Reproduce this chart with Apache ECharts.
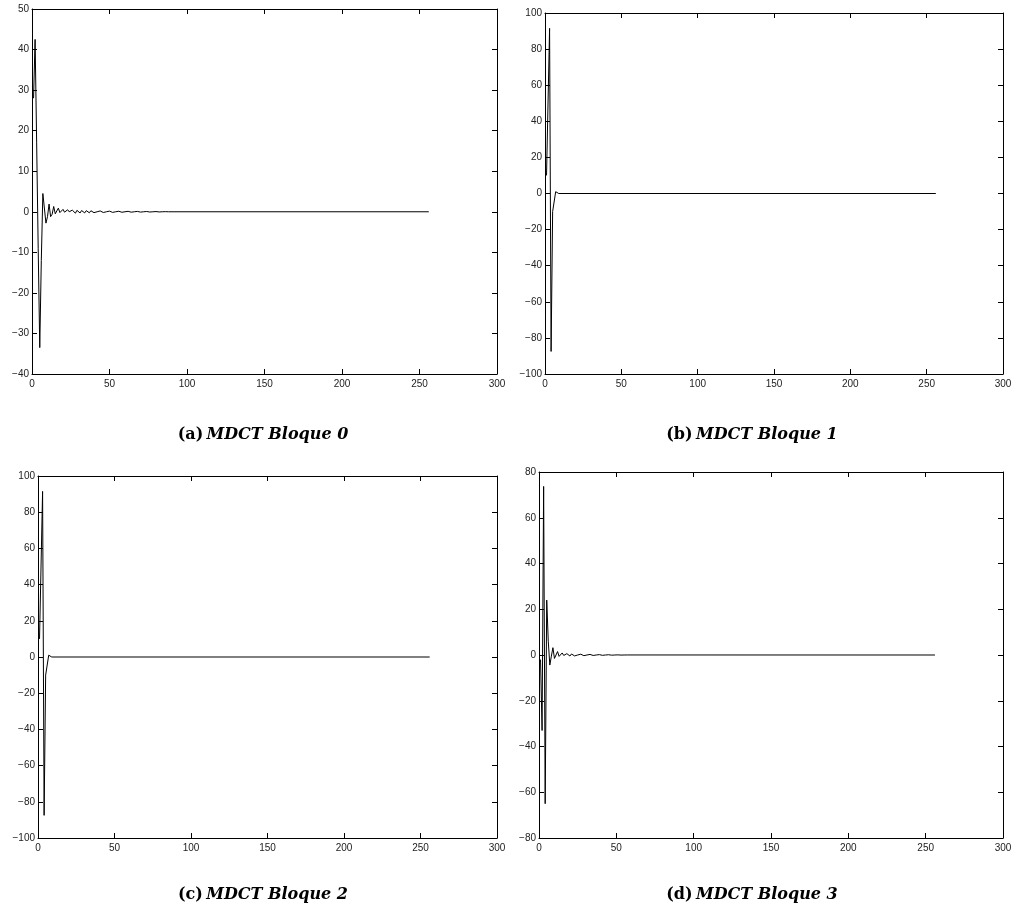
<!DOCTYPE html>
<html>
<head>
<meta charset="utf-8">
<script src="https://cdn.jsdelivr.net/npm/echarts@6/dist/echarts.min.js"></script>
<style>
html,body{margin:0;padding:0;background:#fff;}
#c{width:1016px;height:913px;}
</style>
</head>
<body>
<div id="c"></div>
<script>
// x ticks (shared)
const xTicks = [0, 50, 100, 150, 200, 250, 300];
const lastIndex = 256;

// MDCT Bloque 0 : values for n = 1, 2, 3, ... (rest is zero up to n = 256)
const bloque0 = [28, 42.5, 17, -9, -33.5, -12, 4.5, 4.2, -2.8, -1.2,
  1.9, -1.2, -0.6, 1.3, -0.5, -0.7, 0.9, -0.2, -0.6, 0.6,
  -0.1, -0.5, 0.5, 0.0, -0.4, 0.4, 0.0, -0.35, 0.35, 0.0,
  -0.3, 0.3, 0.0, -0.28, 0.28, 0.0, -0.25, 0.25, 0.0, -0.22,
  0.22, 0.0, -0.2, 0.2, 0.0, -0.18, 0.18, 0.0, -0.16, 0.16,
  0.0, -0.15, 0.15, 0.0, -0.13, 0.13, 0.0, -0.12, 0.12, 0.0,
  -0.11, 0.11, 0.0, -0.1, 0.1, 0.0, -0.09, 0.09, 0.0, -0.08,
  0.08, 0.0, -0.07, 0.07, 0.0, -0.06, 0.06, 0.0, -0.05, 0.05,
  0.0, -0.04, 0.04, 0.0, -0.03, 0.03, 0.0, 0.0];
// MDCT Bloque 1
const bloque1 = [10, 10, 91.5, -87.5, -10, -10, 1, 0.3, 0];
// MDCT Bloque 2
const bloque2 = [10, 10, 91.5, -87.5, -10, -10, 1, 0.3, 0];
// MDCT Bloque 3
const bloque3 = [-2, -33, 73.7, -65, 24, 6, -4.4, -0.5, 3.2, -1.5,
  -1.0, 1.5, -0.6, -0.7, 0.9, -0.2, -0.5, 0.6, -0.1, -0.45,
  0.45, 0.0, -0.4, 0.4, 0.0, -0.35, 0.35, 0.0, -0.3, 0.3,
  0.0, -0.25, 0.25, 0.0, -0.2, 0.2, 0.0, -0.17, 0.17, 0.0,
  -0.14, 0.14, 0.0, -0.11, 0.11, 0.0, -0.08, 0.08, 0.0, -0.06,
  0.06, 0.0, -0.04, 0.04, 0.0, -0.02, 0.02, 0.0];

const captions = [
  ['(a)', 'MDCT Bloque 0'],
  ['(b)', 'MDCT Bloque 1'],
  ['(c)', 'MDCT Bloque 2'],
  ['(d)', 'MDCT Bloque 3']
];
const yRanges = [[-40, 50, 10], [-100, 100, 20], [-100, 100, 20], [-80, 80, 20]];
const seriesData = [bloque0, bloque1, bloque2, bloque3];

// layout (pixels)
const grids = [
  {left: 32, top: 9, width: 465, height: 365},
  {left: 545, top: 13, width: 458, height: 361},
  {left: 38, top: 476, width: 459, height: 362},
  {left: 539, top: 472, width: 464, height: 366}
];
const capPos = [[263, 435], [752, 435], [263, 895], [752, 895]];

function toPairs(arr) {
  const out = arr.map((v, i) => [i + 1, v]);
  out.push([lastIndex, 0]);
  return out;
}
const minus = v => String(v).replace('-', '\u2212');
const lineCol = '#000';
const labelStyle = {fontFamily: 'Liberation Sans, Arial, sans-serif', fontSize: 10, color: '#222'};

const option = {
  animation: false,
  backgroundColor: '#fff',
  grid: grids.map(g => Object.assign({containLabel: false}, g)),
  xAxis: [], yAxis: [], series: [], graphic: []
};

grids.forEach((g, k) => {
  const [ymin, ymax, yint] = yRanges[k];
  const axLine = {show: true, onZero: false, lineStyle: {color: lineCol, width: 1}};
  const tick = {show: true, inside: true, length: 5, lineStyle: {color: lineCol, width: 1}};
  option.xAxis.push({
    type: 'value', gridIndex: k, position: 'bottom', min: xTicks[0], max: xTicks[xTicks.length - 1], interval: 50,
    axisLine: axLine, axisTick: tick, splitLine: {show: false},
    axisLabel: Object.assign({margin: 5, formatter: minus}, labelStyle)
  });
  option.xAxis.push({
    type: 'value', gridIndex: k, position: 'top', min: xTicks[0], max: xTicks[xTicks.length - 1], interval: 50,
    axisLine: axLine, axisTick: tick, splitLine: {show: false}, axisLabel: {show: false}
  });
  option.yAxis.push({
    type: 'value', gridIndex: k, position: 'left', min: ymin, max: ymax, interval: yint,
    axisLine: axLine, axisTick: tick, splitLine: {show: false},
    axisLabel: Object.assign({margin: 3, formatter: minus}, labelStyle)
  });
  option.yAxis.push({
    type: 'value', gridIndex: k, position: 'right', min: ymin, max: ymax, interval: yint,
    axisLine: axLine, axisTick: tick, splitLine: {show: false}, axisLabel: {show: false}
  });
  option.series.push({
    type: 'line', xAxisIndex: 2 * k, yAxisIndex: 2 * k, data: toPairs(seriesData[k]),
    showSymbol: false, symbol: 'none', lineStyle: {color: '#000', width: 1}, z: 1
  });
  option.graphic.push({
    type: 'text', x: capPos[k][0], y: capPos[k][1],
    style: {
      text: '{b|' + captions[k][0] + '} {bi|' + captions[k][1] + '}',
      align: 'center', verticalAlign: 'middle',
      rich: {
        b: {fontFamily: 'DejaVu Serif', fontWeight: 'bold', fontSize: 16, fill: '#000'},
        bi: {fontFamily: 'DejaVu Serif', fontWeight: 'bold', fontStyle: 'italic', fontSize: 16, fill: '#000'}
      }
    }
  });
});

const chart = echarts.init(document.getElementById('c'), null, {renderer: 'canvas'});
chart.setOption(option);
</script>
</body>
</html>
